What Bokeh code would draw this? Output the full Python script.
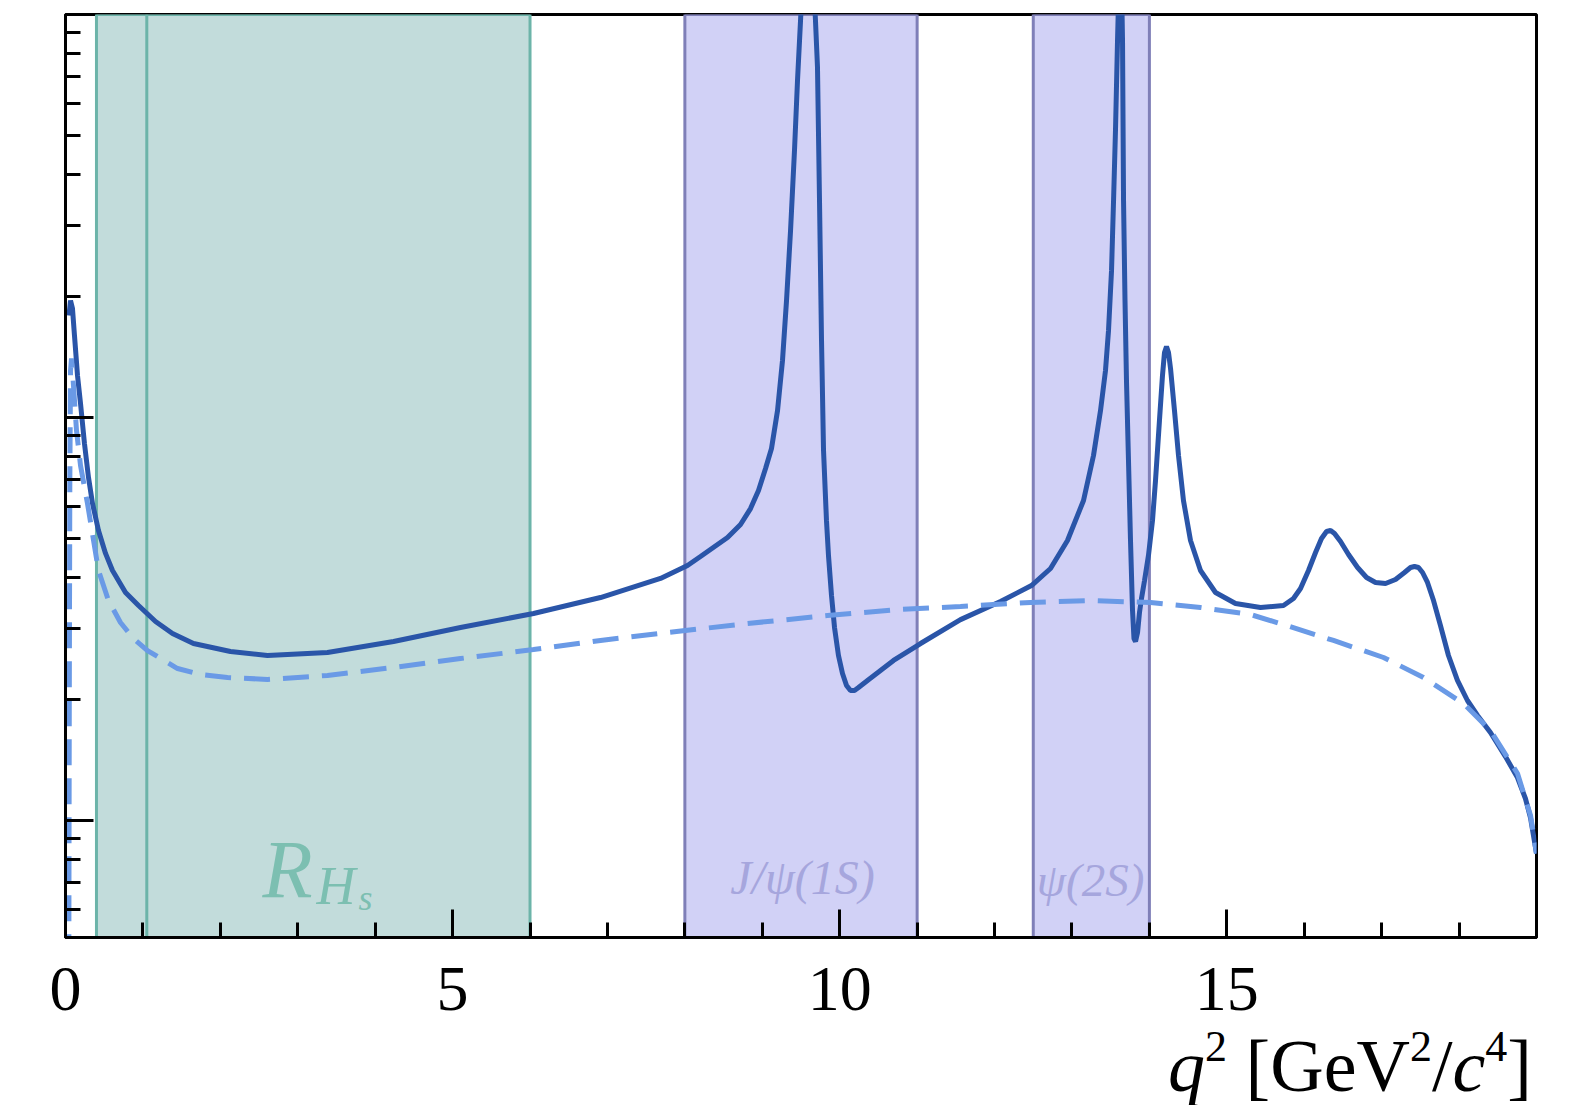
from bokeh.plotting import figure
from bokeh.layouts import column
from bokeh.models import (Range1d, BoxAnnotation, Span, Label, SingleIntervalTicker,
                          FixedTicker, CustomJSTickFormatter, Div)
from bokeh.embed import file_html
from bokeh.resources import INLINE

# ---- data ----
q2_full = [0.045, 0.065, 0.090, 0.116, 0.155, 0.194, 0.245, 0.297, 0.349, 0.426,
           0.517, 0.607, 0.775, 0.943, 1.163, 1.382, 1.653, 2.131, 2.609, 3.384,
           4.237, 5.102, 6.045, 6.910, 7.685, 8.034, 8.202, 8.551, 8.719, 8.848,
           8.951, 9.042, 9.119, 9.197, 9.261, 9.313, 9.365, 9.416, 9.455, 9.494,
           9.520, 9.597, 9.662, 9.687, 9.713, 9.739, 9.765, 9.791, 9.829, 9.855,
           9.894, 9.933, 9.984, 10.036, 10.088, 10.139, 10.191, 10.243, 10.359, 10.527,
           10.695, 11.044, 11.560, 12.077, 12.477, 12.723, 12.942, 13.149, 13.278, 13.369,
           13.433, 13.472, 13.511, 13.537, 13.562, 13.588, 13.608, 13.620, 13.640, 13.653,
           13.666, 13.685, 13.704, 13.730, 13.756, 13.782, 13.801, 13.821, 13.847, 13.872,
           13.898, 13.937, 13.988, 14.040, 14.079, 14.130, 14.169, 14.195, 14.221, 14.247,
           14.273, 14.324, 14.376, 14.440, 14.531, 14.660, 14.854, 15.112, 15.435, 15.732,
           15.861, 15.952, 16.055, 16.146, 16.223, 16.288, 16.340, 16.391, 16.469, 16.572,
           16.689, 16.805, 16.921, 17.050, 17.179, 17.295, 17.373, 17.424, 17.476, 17.528,
           17.592, 17.670, 17.760, 17.863, 17.979, 18.108, 18.238, 18.405, 18.599, 18.754,
           18.857, 18.922, 19.0]
dB_full = [1.79, 1.95, 1.865, 1.598, 1.271, 1.083, 0.862, 0.710, 0.6116, 0.5244,
           0.460, 0.4172, 0.3679, 0.3416, 0.3117, 0.2911, 0.2749, 0.2627, 0.2567, 0.2611,
           0.2781, 0.3012, 0.3263, 0.3575, 0.3986, 0.4294, 0.4518, 0.5037, 0.5426, 0.5943,
           0.6590, 0.7470, 0.8377, 1.0408, 1.385, 1.951, 2.911, 4.598, 6.860, 9.663,
           12.15, 1000.0, 12.15, 9.663, 7.389, 3.455, 1.553, 0.8282, 0.5553, 0.4546,
           0.3617, 0.3012, 0.2567, 0.2317, 0.2163, 0.2102, 0.2102, 0.2138, 0.2226, 0.2357,
           0.2495, 0.2749, 0.3151, 0.3495, 0.3829, 0.4220, 0.4953, 0.6223, 0.8048, 1.041,
           1.308, 1.644, 2.317, 3.455, 5.156, 8.570, 12.15, 1000.0, 12.15, 8.570,
           3.455, 1.951, 1.235, 0.7821, 0.4953, 0.3320, 0.2829, 0.2781, 0.2927, 0.3282,
           0.3555, 0.3939, 0.4546, 0.5553, 0.6979, 0.9830, 1.271, 1.450, 1.500, 1.450,
           1.323, 1.041, 0.8048, 0.6223, 0.4953, 0.4172, 0.3679, 0.3455, 0.3377, 0.3416,
           0.3555, 0.3763, 0.4172, 0.4624, 0.5009, 0.5213, 0.5244, 0.5155, 0.4924, 0.4571,
           0.4244, 0.4009, 0.3896, 0.3873, 0.3963, 0.4125, 0.4244, 0.4269, 0.4244, 0.4125,
           0.3896, 0.3514, 0.3046, 0.2567, 0.2226, 0.1985, 0.1822, 0.1653, 0.1441, 0.1278,
           0.1134, 0.1017, 0.0828]

q2_short = [0.043, 0.049, 0.056, 0.065, 0.0775, 0.103, 0.142, 0.194, 0.284, 0.426,
            0.555, 0.710, 0.878, 1.059, 1.447, 1.744, 2.092, 2.609, 3.384, 4.237,
            5.102, 6.045, 6.910, 7.776, 8.809, 9.842, 10.785, 11.560, 12.465, 13.240,
            14.015, 14.660, 15.306, 15.732, 16.378, 17.024, 17.540, 18.057, 18.406, 18.755,
            18.923, 19.0]
dB_short = [0.045, 0.1986, 0.698, 1.308, 1.401, 1.201, 0.929, 0.760, 0.6116, 0.4172,
            0.3514, 0.3100, 0.2829, 0.2641, 0.2383, 0.2303, 0.2264, 0.2239, 0.2290, 0.2397,
            0.2523, 0.2656, 0.2797, 0.2927, 0.3082, 0.3225, 0.3339, 0.3397, 0.3475, 0.3514,
            0.3475, 0.3377, 0.3244, 0.3064, 0.2797, 0.2538, 0.2264, 0.1951, 0.1672, 0.1308,
            0.1029, 0.0828]

band_lo = [0.4, 8.0, 12.5]
band_hi = [6.0, 11.0, 14.0]
rhs_split = 1.05
band_fill = ["#c2dcdb", "#d1d1f6", "#d1d1f6"]
band_edge = ["#6cb4a9", "#7f7fb8", "#7f7fb8"]

SERIF = "Liberation Serif"

p = figure(width=1573, height=1042, x_range=Range1d(0, 19), y_range=Range1d(0.05125, 10),
           y_axis_type="log", output_backend="svg", toolbar_location=None,
           min_border_left=65, min_border_right=37, min_border_top=14, min_border_bottom=105)
p.xgrid.visible = False
p.ygrid.visible = False
p.background_fill_color = "white"
p.border_fill_color = "white"
p.outline_line_color = "black"
p.outline_line_width = 3
p.outline_line_alpha = 1.0

# bands
for lo, hi, fc, ec in zip(band_lo, band_hi, band_fill, band_edge):
    p.add_layout(BoxAnnotation(left=lo, right=hi, fill_color=fc, fill_alpha=1.0,
                               line_color=ec, line_alpha=1.0, line_width=3, level="underlay"))
p.add_layout(Span(location=rhs_split, dimension="height", line_color=band_edge[0],
                  line_alpha=1.0, line_width=3, level="underlay"))

# curves
p.line(q2_full, dB_full, line_color="#2a55a8", line_width=5)
p.line(q2_short, dB_short, line_color="#6a9ae6", line_width=5, line_dash="26 13")

# axes
xa = p.xaxis[0]
xa.ticker = SingleIntervalTicker(interval=5, num_minor_ticks=5)
xa.axis_line_width = 3
xa.major_tick_in = 28
xa.major_tick_out = 0
xa.minor_tick_in = 15
xa.minor_tick_out = 0
xa.major_tick_line_width = 3
xa.minor_tick_line_width = 3
xa.major_label_text_font = SERIF
xa.major_label_text_font_size = "64px"
xa.major_label_text_color = "black"
xa.major_label_standoff = 30

ya = p.yaxis[0]
ya.ticker = FixedTicker(ticks=[0.1, 1.0, 10.0],
                        minor_ticks=[m * 10.0 ** e for e in (-2, -1, 0) for m in range(2, 10)])
ya.formatter = CustomJSTickFormatter(code="return ''")
ya.axis_line_width = 3
ya.major_tick_in = 28
ya.major_tick_out = 0
ya.minor_tick_in = 15
ya.minor_tick_out = 0
ya.major_tick_line_width = 3
ya.minor_tick_line_width = 3
ya.major_label_standoff = 0

# band labels
TEAL_TXT = "#7cbfb1"
PURP_TXT = "#a6a6dd"
p.add_layout(Label(x=2.545, y=0.0584, text="R", text_font=SERIF, text_font_style="italic",
                   text_font_size="82px", text_color=TEAL_TXT))
p.add_layout(Label(x=3.242, y=0.0578, text="H", text_font=SERIF, text_font_style="italic",
                   text_font_size="54px", text_color=TEAL_TXT))
p.add_layout(Label(x=3.785, y=0.0574, text="s", text_font=SERIF, text_font_style="italic",
                   text_font_size="36px", text_color=TEAL_TXT))
p.add_layout(Label(x=9.52, y=0.0619, text="J/ψ(1S)", text_font=SERIF, text_font_style="italic",
                   text_font_size="48px", text_color=PURP_TXT, text_align="center"))
p.add_layout(Label(x=13.24, y=0.0612, text="ψ(2S)", text_font=SERIF, text_font_style="italic",
                   text_font_size="47px", text_color=PURP_TXT, text_align="center"))

# x-axis title (right-aligned under the axis)
sup = '<span style="font-size:44px; position:relative; top:-30px">{}</span>'
title_html = ('<div style="width:1527px; text-align:right; font-family:\'Liberation Serif\', serif;'
              ' font-size:74px; line-height:38px; color:black; white-space:nowrap">'
              '<i>q</i>' + sup.format("2") + '&nbsp;[GeV' + sup.format("2") + '/<i>c</i>'
              + sup.format("4") + ']</div>')
title = Div(text=title_html, width=1573, height=63)

layout = column(p, title, spacing=0)
open("out.html", "w").write(file_html(layout, INLINE))
